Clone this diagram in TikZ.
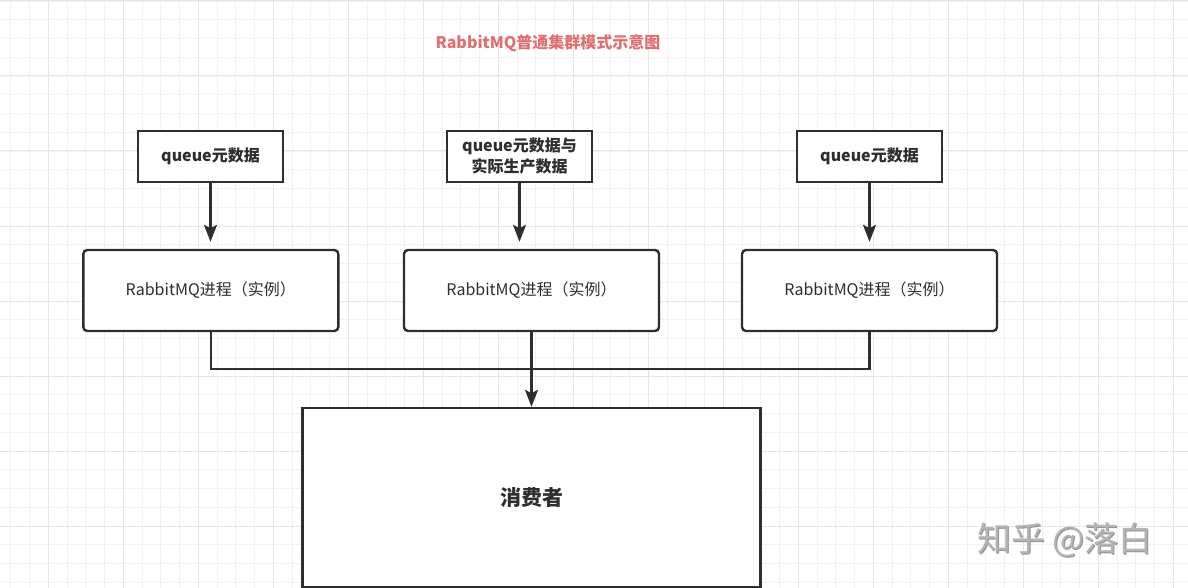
\documentclass[tikz,border=0pt]{standalone}
\usepackage{fontspec}
\setmainfont{Noto Sans CJK SC}
\usetikzlibrary{arrows.meta}
\definecolor{ink}{HTML}{2E2E2E}
\definecolor{titlered}{HTML}{E07070}
\definecolor{gridminor}{HTML}{F2F2F2}
\definecolor{gridmajor}{HTML}{E6E6E6}
\definecolor{wm}{HTML}{B4B4B4}
\definecolor{wmshadow}{HTML}{949494}
\tikzset{
  gminor/.style={draw=gridminor, line width=0.9pt},
  gmajor/.style={draw=gridmajor, line width=1pt},
  topbox/.style={draw=ink, line width=2.4pt, fill=white, minimum width=145pt, minimum height=51pt, inner sep=0pt, align=center, text=ink, font=\fontsize{16}{21}\selectfont\bfseries},
  procbox/.style={draw=ink, line width=2.4pt, fill=white, rounded corners=4pt, minimum width=255pt, minimum height=81pt, inner sep=0pt, text=ink, font=\fontsize{16}{19}\selectfont},
  consbox/.style={draw=ink, line width=2.4pt, fill=white, minimum width=458pt, minimum height=179pt, inner sep=0pt, text=ink, font=\fontsize{21}{25}\selectfont\bfseries},
  conn/.style={draw=ink, line width=2.3pt},
  arr/.style={conn, -{Stealth[length=17pt, width=13pt, inset=3.5pt]}},
}
\begin{document}
\begin{tikzpicture}[x=1pt, y=-1pt]
\useasboundingbox (0,0) rectangle (1188,588);
\clip (0,0) rectangle (1188,588);
\fill[white] (0,0) rectangle (1188,588);
% grid
\foreach \i in {0,...,63} {\draw[gminor] ({10.8+18.75*\i},0) -- ({10.8+18.75*\i},588);}
\foreach \i in {0,...,32} {\draw[gminor] (0,{1+18.75*\i}) -- (1188,{1+18.75*\i});}
\foreach \i in {0,...,15} {\draw[gmajor] ({48.3+75*\i},0) -- ({48.3+75*\i},588);}
\foreach \i in {0,...,8} {\draw[gmajor] (0,{1+75*\i}) -- (1188,{1+75*\i});}

% title
\node[text=titlered, font=\fontsize{16}{20}\selectfont\bfseries] (title) at (548,43) {RabbitMQ普通集群模式示意图};

% top boxes
\node[topbox] (t1) at (210.5,156.5) {queue元数据};
\node[topbox] (t2) at (519.5,156.5) {queue元数据与\\实际生产数据};
\node[topbox] (t3) at (869.5,156.5) {queue元数据};

% process boxes
\node[procbox] (r1) at (210.8,290.5) {RabbitMQ进程（实例）};
\node[procbox] (r2) at (531.5,290.5) {RabbitMQ进程（实例）};
\node[procbox] (r3) at (869.5,290.5) {RabbitMQ进程（实例）};

% consumer
\node[consbox] (c) at (531.5,497.5) {消费者};

% arrows top -> process
\draw[arr, shorten >=7pt] (t1.south) -- (t1.south |- r1.north);
\draw[arr, shorten >=7pt] (t2.south) -- (t2.south |- r2.north);
\draw[arr, shorten >=7pt] (t3.south) -- (t3.south |- r3.north);

% bus
\coordinate (j) at (531.5,369);
\draw[conn] (r1.south) -- (r1.south |- j) -- (r3.south |- j) -- (r3.south);
\draw[arr] (r2.south) -- (c.north);

% watermark
\node[text=wmshadow, font=\fontsize{34}{38}\selectfont] at (1066,541) {知乎 @落白};
\node[text=wm, font=\fontsize{34}{38}\selectfont] (wmk) at (1065,540) {知乎 @落白};
\end{tikzpicture}
\end{document}
